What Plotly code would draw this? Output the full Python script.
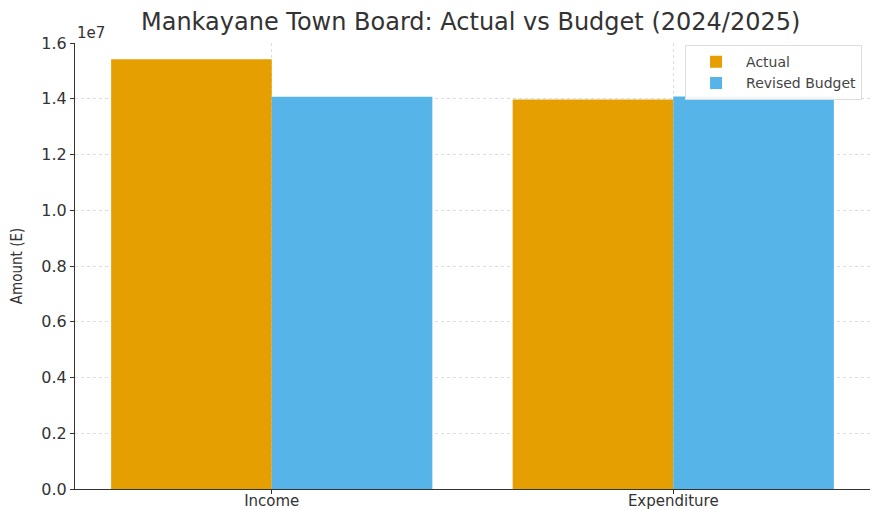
import plotly.graph_objects as go

categories = ["Income", "Expenditure"]
actual = [15.42e6, 13.97e6]
revised_budget = [14.07e6, 14.08e6]
ytick_vals = [0, 0.2e7, 0.4e7, 0.6e7, 0.8e7, 1.0e7, 1.2e7, 1.4e7, 1.6e7]
ytick_text = ["0.0", "0.2", "0.4", "0.6", "0.8", "1.0", "1.2", "1.4", "1.6"]

fig = go.Figure()
fig.add_trace(go.Bar(name="Actual", x=categories, y=actual, marker_color="#E69F00",
                     marker_line_width=0, offsetgroup=0))
fig.add_trace(go.Bar(name="Revised Budget", x=categories, y=revised_budget, marker_color="#56B4E9",
                     marker_line_width=0, offsetgroup=1))

fig.update_layout(
    width=873, height=501,
    barmode="group", bargap=0.2, bargroupgap=0,
    plot_bgcolor="white", paper_bgcolor="white",
    margin=dict(l=67, r=11, t=35, b=20, autoexpand=False),
    font=dict(family="DejaVu Sans", color="#333333", size=15),
    title=dict(text="Mankayane Town Board: Actual vs Budget (2024/2025)",
               x=0.530, xanchor="center", y=0.972, yanchor="middle",
               font=dict(size=24, color="#333333")),
    legend=dict(x=0.99, xanchor="right", y=0.995, yanchor="top",
                bordercolor="#dddddd", borderwidth=1, bgcolor="rgba(255,255,255,0.9)",
                font=dict(size=14, color="#444444"), tracegroupgap=0, itemwidth=50),
    xaxis=dict(range=[-0.49, 1.49], showgrid=True, gridcolor="#dddddd", griddash="dot",
               showline=True, linecolor="#333333", linewidth=1, automargin=False,
               ticks="outside", ticklen=4, tickcolor="#333333", tickfont=dict(size=15),
               ticklabelstandoff=-6),
    yaxis=dict(range=[0, 1.6e7], tickvals=ytick_vals, ticktext=ytick_text, automargin=False,
               showgrid=True, gridcolor="#dddddd", griddash="dot",
               showline=True, linecolor="#333333", linewidth=1, zeroline=False,
               ticks="outside", ticklen=4, tickcolor="#333333", tickfont=dict(size=16),
               title=dict(text="Amount (E)", font=dict(size=15, family="DejaVu Sans Condensed"), standoff=15)),
    annotations=[dict(text="1e7", xref="paper", yref="paper", x=0, y=1.0, xanchor="left",
                      yanchor="bottom", showarrow=False, yshift=-1, font=dict(size=15, color="#333333"))],
)

fig.write_html("out.html")
